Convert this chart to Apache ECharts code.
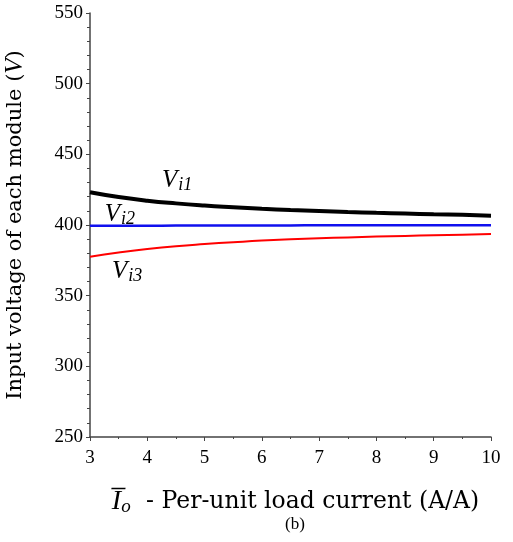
<!DOCTYPE html>
<html><head><meta charset="utf-8">
<script src="https://cdn.jsdelivr.net/npm/echarts@6/dist/echarts.min.js"></script>
<style>html,body{margin:0;padding:0;background:#fff}#c{width:513px;height:542px}</style>
</head><body><div id="c"></div>
<script>
const xValues = [3, 3.5, 4, 4.5, 5, 5.5, 6, 6.5, 7, 7.5, 8, 8.5, 9, 9.5, 10];
const vi1 = [423.2, 419.8, 417.2, 415.3, 413.8, 412.6, 411.5, 410.6, 409.9, 409.2, 408.6, 408.1, 407.6, 407.2, 406.6];
const vi2 = [399.4, 399.5, 399.5, 399.6, 399.6, 399.7, 399.7, 399.7, 399.8, 399.8, 399.8, 399.8, 399.9, 399.9, 399.9];
const vi3 = [377.6, 380.5, 383.0, 385.0, 386.5, 387.8, 389.0, 389.9, 390.6, 391.2, 391.8, 392.3, 392.7, 393.1, 393.6];
const labelPos = { vi1: [4.52, 431.5], vi2: [3.52, 407.8], vi3: [3.65, 367.4] };

const serif = 'Liberation Serif';
const wide = 'DejaVu Serif';
const pairs = a => xValues.map((x, i) => [x, a[i]]);
const lbl = (sub, pos) => ({
  symbol: 'circle', symbolSize: 2, silent: true,
  itemStyle: { color: 'rgba(0,0,0,0)' },
  label: { show: true, position: 'inside', formatter: '{v|V}{s|' + sub + '}',
    rich: { v: { fontFamily: serif, fontStyle: 'italic', fontSize: 25, color: '#000' },
            s: { fontFamily: serif, fontStyle: 'italic', fontSize: 18, color: '#000', verticalAlign: 'bottom', padding: [10, 0, 0, 1] } } },
  data: [{ coord: pos }]
});
const chart = echarts.init(document.getElementById('c'));
chart.setOption({
  animation: false,
  title: { text: '(b)', left: 290, top: 511, textAlign: 'center',
    textStyle: { fontFamily: serif, fontSize: 17, fontWeight: 'normal', color: '#000' } },
  grid: { left: 90, right: 22, top: 13, bottom: 105, outerBoundsMode: 'none', containLabel: false },
  xAxis: {
    type: 'value', min: 3, max: 10, interval: 1,
    name: '{i|I\u0305}{o|o} - Per-unit load current (A/A)',
    nameLocation: 'middle', nameGap: 50,
    nameTextStyle: { fontFamily: wide, fontSize: 23.5, color: '#000', padding: [0, 0, 0, 10],
      rich: { i: { fontFamily: serif, fontStyle: 'italic', fontSize: 28, color: '#000' },
              o: { fontFamily: serif, fontStyle: 'italic', fontSize: 19, color: '#000', verticalAlign: 'bottom', padding: [10, 8, 0, 0] } } },
    axisLine: { lineStyle: { color: '#444', width: 1.5 } },
    axisTick: { length: 4, lineStyle: { color: '#444' } },
    minorTick: { show: true, splitNumber: 2, length: 2, lineStyle: { color: '#444' } },
    axisLabel: { fontFamily: serif, fontSize: 19, color: '#000', margin: 12 },
    splitLine: { show: false }
  },
  yAxis: {
    type: 'value', min: 250, max: 550, interval: 50,
    name: 'Input voltage of each module ({i|V})',
    nameLocation: 'middle', nameGap: 62, nameRotate: 90,
    nameTextStyle: { fontFamily: wide, fontSize: 21, color: '#000', padding: [0, 0, 0, 0],
      rich: { i: { fontFamily: serif, fontStyle: 'italic', fontSize: 25, color: '#000' } } },
    axisLine: { show: true, lineStyle: { color: '#444', width: 1.5 } },
    axisTick: { show: true, length: 4, lineStyle: { color: '#444' } },
    minorTick: { show: true, splitNumber: 5, length: 3, lineStyle: { color: '#444' } },
    axisLabel: { fontFamily: serif, fontSize: 19, color: '#000', margin: 7 },
    splitLine: { show: false }
  },
  series: [
    { type: 'line', data: pairs(vi1), showSymbol: false, smooth: true, lineStyle: { color: '#000', width: 4 }, markPoint: lbl('i1', labelPos.vi1) },
    { type: 'line', data: pairs(vi2), showSymbol: false, smooth: true, lineStyle: { color: '#1010ee', width: 2.5 }, markPoint: lbl('i2', labelPos.vi2) },
    { type: 'line', data: pairs(vi3), showSymbol: false, smooth: true, lineStyle: { color: '#ff0000', width: 2 }, markPoint: lbl('i3', labelPos.vi3) }
  ]
});
</script></body></html>
